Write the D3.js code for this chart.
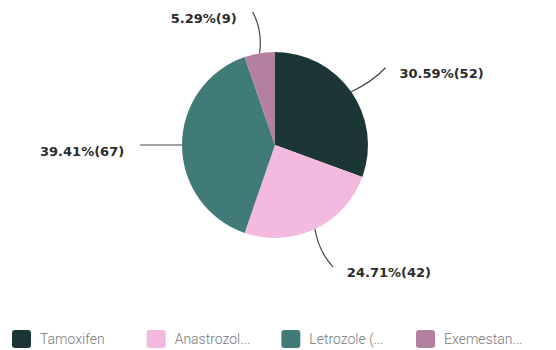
<!DOCTYPE html>
<html><head><meta charset="utf-8">
<script src="https://cdn.jsdelivr.net/npm/d3@7"></script>
<style>body{margin:0;background:#fff}svg{display:block}</style>
</head><body>
<svg id="c" width="556" height="350"></svg>
<script>
const categories = ["Tamoxifen", "Anastrozol...", "Letrozole (...", "Exemestan..."];
const counts = [52, 42, 67, 9];
const percents = ["30.59%", "24.71%", "39.41%", "5.29%"];
const colors = ["#1b3634", "#f4b9de", "#417b78", "#b3809f"];

const svg = d3.select("#c");
const cx = 275, cy = 145, r = 93;
const g = svg.append("g").attr("transform", `translate(${cx},${cy})`);

const pie = d3.pie().sort(null).value(d => d);
const arcs = pie(counts);
const arc = d3.arc().innerRadius(0).outerRadius(r);

g.selectAll("path.slice").data(arcs).enter().append("path")
  .attr("class", "slice")
  .attr("d", arc)
  .attr("fill", (d, i) => colors[i]);

function pt(a, rad) { return [Math.sin(a) * rad, -Math.cos(a) * rad]; }

arcs.forEach((d, i) => {
  const a = (d.startAngle + d.endAngle) / 2;
  // bend is strongest near top/bottom, none on horizontal sides
  const bend = 0.06 * Math.abs(Math.cos(a));
  const p0 = pt(a, r);
  const c = pt(a + bend, r * 1.24);
  const p2 = pt(a, r * 1.45);
  const right = Math.sin(a) > 0.01;
  const path = d3.path();
  path.moveTo(p0[0], p0[1]);
  path.quadraticCurveTo(c[0], c[1], p2[0], p2[1]);
  g.append("path")
    .attr("d", path.toString())
    .attr("fill", "none")
    .attr("stroke", "#444")
    .attr("stroke-width", 1.2);
  g.append("text")
    .attr("x", p2[0] + (right ? 14 : -16))
    .attr("y", p2[1] + 6)
    .attr("dominant-baseline", "central")
    .attr("text-anchor", right ? "start" : "end")
    .attr("font-family", "DejaVu Sans, sans-serif")
    .attr("font-weight", "bold")
    .attr("font-size", 13)
    .attr("fill", "#2b2b2b")
    .text(`${percents[i]}(${counts[i]})`);
});

const legend = svg.append("g").attr("transform", "translate(12,330)");
const lx = d3.scalePoint().domain(categories).range([0, 404]);
const items = legend.selectAll("g").data(categories).enter().append("g")
  .attr("transform", d => `translate(${lx(d)},0)`);
items.append("rect").attr("width", 19).attr("height", 18).attr("rx", 3)
  .attr("fill", (d, i) => colors[i]);
items.append("text").attr("x", 28).attr("y", 14)
  .attr("font-family", "Roboto, sans-serif")
  .attr("font-weight", 300)
  .attr("font-size", 14)
  .attr("fill", "#7a7a7a")
  .text(d => d);
</script>
</body></html>
